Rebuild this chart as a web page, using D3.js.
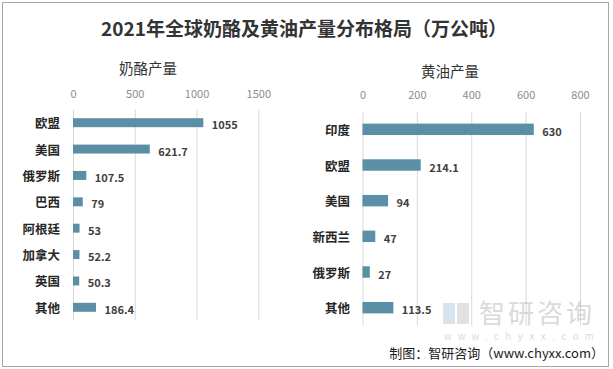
<!DOCTYPE html>
<html><head><meta charset="utf-8">
<script src="https://cdn.jsdelivr.net/npm/d3@7"></script>
<style>body{margin:0;background:#fff}svg{display:block}</style>
</head><body>
<svg id="c" width="613" height="369"></svg>
<script>
const title = "2021年全球奶酪及黄油产量分布格局（万公吨）";
const cheeseTitle = "奶酪产量";
const cheeseCategories = ["欧盟","美国","俄罗斯","巴西","阿根廷","加拿大","英国","其他"];
const cheeseValues = [1055,621.7,107.5,79,53,52.2,50.3,186.4];
const cheeseTicks = [0,500,1000,1500];
const butterTitle = "黄油产量";
const butterCategories = ["印度","欧盟","美国","新西兰","俄罗斯","其他"];
const butterValues = [630,214.1,94,47,27,113.5];
const butterTicks = [0,200,400,600,800];
const source = "制图：智研咨询（www.chyxx.com）";

const FONT = "'Noto Sans CJK SC','Microsoft YaHei',sans-serif";
const svg = d3.select("#c");
const barColor = "#5b8fa6";

svg.append("rect").attr("x",2.5).attr("y",2.5).attr("width",606).attr("height",364)
  .attr("fill","#fff").attr("stroke","#a6a6a6").attr("stroke-width",1);

svg.append("text").attr("x",304).attr("y",27).attr("text-anchor","middle")
  .attr("dominant-baseline","central").attr("font-family",FONT)
  .attr("font-size",19).attr("font-weight","bold").attr("fill","#333").text(title);

function panel(cfg){
  const x = d3.scaleLinear().domain(cfg.domain).range(cfg.xr);
  const y = d3.scaleBand().domain(cfg.cats).range(cfg.yr).paddingInner(cfg.pad).paddingOuter(cfg.pad/2);
  const g = svg.append("g");
  g.append("text").attr("x",cfg.titleX).attr("y",cfg.titleY).attr("text-anchor","middle")
    .attr("dominant-baseline","central").attr("font-family",FONT).attr("font-size",14.5)
    .attr("fill","#333").text(cfg.title);
  g.selectAll("line.grid").data(cfg.ticks).join("line")
    .attr("x1",d=>x(d)+0.5).attr("x2",d=>x(d)+0.5)
    .attr("y1",cfg.yr[0]).attr("y2",cfg.yr[1])
    .attr("stroke","#d9d9d9").attr("stroke-width",1);
  const ax = g.append("g").attr("transform",`translate(0,${cfg.tickY})`)
    .call(d3.axisTop(x).tickValues(cfg.ticks).tickFormat(d3.format("d")).tickSize(0).tickPadding(0));
  ax.select(".domain").remove();
  ax.selectAll("text").attr("font-family",FONT).attr("font-size",11).attr("fill","#8c8c8c")
    .attr("dominant-baseline","central").attr("dy",0);
  g.selectAll("rect.bar").data(cfg.vals).join("rect")
    .attr("x",x(0)).attr("y",(d,i)=>y(cfg.cats[i]))
    .attr("width",d=>x(d)-x(0)).attr("height",y.bandwidth()).attr("fill",barColor);
  g.selectAll("text.cat").data(cfg.cats).join("text")
    .attr("x",cfg.catX).attr("y",d=>y(d)+y.bandwidth()/2).attr("text-anchor","end")
    .attr("dominant-baseline","central").attr("font-family",FONT).attr("font-size",12.5)
    .attr("font-weight","bold").attr("fill","#262626").text(d=>d);
  g.selectAll("text.val").data(cfg.vals).join("text")
    .attr("x",d=>x(d)+8.5).attr("y",(d,i)=>y(cfg.cats[i])+y.bandwidth()/2+1.5)
    .attr("dominant-baseline","central").attr("font-family",FONT).attr("font-size",11)
    .attr("font-weight","bold").attr("fill","#404040").text(d=>d);
}

panel({cats:cheeseCategories, vals:cheeseValues, ticks:cheeseTicks, domain:[0,1500],
  xr:[73,258.3], yr:[109.5,320.5], pad:0.66, title:cheeseTitle, titleX:148, titleY:67,
  tickY:93, catX:60});
panel({cats:butterCategories, vals:butterValues, ticks:butterTicks, domain:[0,800],
  xr:[362.5,580], yr:[111.5,325.5], pad:0.68, title:butterTitle, titleX:450, titleY:70,
  tickY:94, catX:350});

// watermark
const wm = svg.append("g").attr("opacity",0.55);
wm.append("rect").attr("x",443).attr("y",303).attr("width",12).attr("height",21).attr("fill","#b9cfe0");
wm.append("rect").attr("x",457).attr("y",303).attr("width",12).attr("height",21).attr("fill","#c9c9c9");
wm.append("text").attr("x",537).attr("y",311).attr("text-anchor","middle").attr("dominant-baseline","central")
  .attr("font-family",FONT).attr("font-size",26).attr("fill","#bdbdbd").attr("letter-spacing",3).text("智研咨询");
wm.append("text").attr("x",522).attr("y",336).attr("text-anchor","middle").attr("dominant-baseline","central")
  .attr("font-family","'Liberation Sans',Arial,sans-serif").attr("font-size",10).attr("fill","#bdbdbd").attr("letter-spacing",6.5).text("www.chyxx.com");

svg.append("text").attr("x",604).attr("y",352.5).attr("text-anchor","end").attr("dominant-baseline","central")
  .attr("font-family",FONT).attr("font-size",13).attr("fill","#1a1a1a").text(source);
</script>
</body></html>
